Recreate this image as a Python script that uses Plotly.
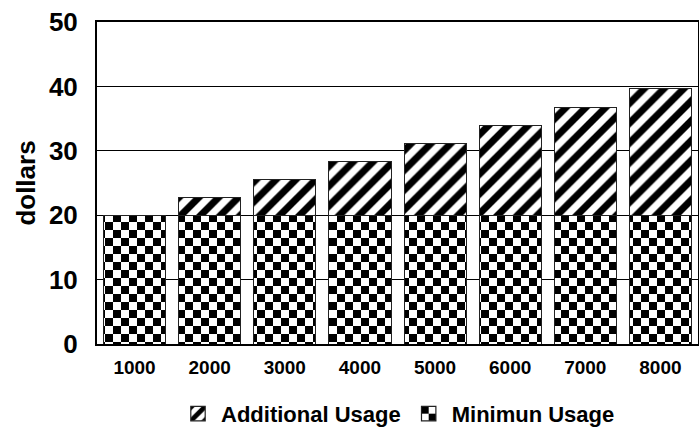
import plotly.graph_objects as go

categories = ["1000", "2000", "3000", "4000", "5000", "6000", "7000", "8000"]
minimun_usage = [20, 20, 20, 20, 20, 20, 20, 20]
additional_usage = [0, 2.8, 5.6, 8.4, 11.2, 14.0, 16.8, 19.6]
y_ticks = [0, 10, 20, 30, 40, 50]

FONT = "Liberation Sans, Arial, sans-serif"

fig = go.Figure()
fig.add_trace(go.Bar(
    x=categories, y=minimun_usage, name="Minimun Usage",
    marker=dict(color="white", line=dict(color="#222", width=1),
                pattern=dict(shape=".", fgcolor="black", bgcolor="white",
                             size=16, solidity=0.5, fillmode="replace")),
))
fig.add_trace(go.Bar(
    x=categories, y=additional_usage, name="Additional Usage",
    marker=dict(color="white", line=dict(color="#222", width=1),
                pattern=dict(shape="/", fgcolor="black", bgcolor="white",
                             size=14, solidity=0.5, fillmode="replace")),
))

fig.update_layout(
    width=699, height=430,
    margin=dict(l=97, r=1, t=22, b=86, autoexpand=False),
    barmode="stack", bargap=0.173,
    plot_bgcolor="white", paper_bgcolor="white",
    font=dict(family=FONT, color="black", weight="bold"),
    hovermode=False,
    showlegend=True,
    legend=dict(orientation="h", x=0.5, xanchor="center", y=-0.217, yanchor="middle",
                traceorder="reversed", font=dict(size=22, family=FONT, weight="bold"),
                itemwidth=36, itemclick=False, itemdoubleclick=False),
)
fig.update_xaxes(
    type="category", showline=True, mirror=True, linecolor="black", linewidth=2,
    ticks="", tickfont=dict(size=19, family=FONT, weight="bold"),
    ticklabelstandoff=5, showgrid=False, automargin=False,
)
fig.update_yaxes(
    range=[0, 50], tickvals=y_ticks, showline=True, mirror=True, linecolor="black",
    linewidth=2, showgrid=True, gridcolor="black", gridwidth=1, zeroline=False,
    ticks="", tickfont=dict(size=26, family=FONT, weight="bold"), ticklabelstandoff=12,
    automargin=False,
    title=dict(text="dollars", font=dict(size=26, family=FONT, weight="bold"), standoff=6),
)

post = """
document.body.style.margin='0';
document.body.style.padding='0';
document.body.style.overflow='hidden';
function checker(){
  var ns='http://www.w3.org/2000/svg';
  document.querySelectorAll('pattern').forEach(function(p){
    if(!p.querySelector('circle')) return;
    while(p.firstChild) p.removeChild(p.firstChild);
    p.setAttribute('width','16px'); p.setAttribute('height','16px');
    [[0,0,16,'#fff'],[0,0,8,'#000'],[8,8,8,'#000']].forEach(function(r){
      var e=document.createElementNS(ns,'rect');
      e.setAttribute('x',r[0]); e.setAttribute('y',r[1]);
      e.setAttribute('width',r[2]); e.setAttribute('height',r[2]);
      e.setAttribute('fill',r[3]); p.appendChild(e);
    });
  });
  document.querySelectorAll('.legend .legendpoints path').forEach(function(p){
    if(p.getAttribute('data-scaled')) return;
    var t = p.getAttribute('transform') || '';
    p.setAttribute('transform', t + ' scale(1.2)');
    p.setAttribute('data-scaled','1');
  });
}
checker();
setTimeout(checker, 30);
var gd=document.getElementById('{plot_id}');
if(gd && gd.on){ gd.on('plotly_afterplot', checker); }
"""

fig.write_html("out.html", post_script=post, config={"displayModeBar": False})
